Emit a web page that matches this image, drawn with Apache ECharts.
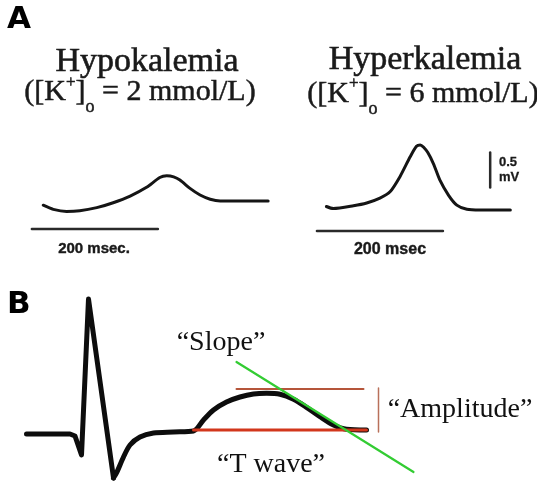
<!DOCTYPE html>
<html>
<head>
<meta charset="utf-8">
<script src="https://cdn.jsdelivr.net/npm/echarts@6/dist/echarts.min.js"></script>
<style>
  html, body { margin: 0; padding: 0; background: #ffffff; }
  #chart { width: 537px; height: 486px; }
</style>
</head>
<body>
<div id="chart"></div>
<script>
// Panel A: T waves (time in msec, amplitude in mV)
const hypoTime = [21, 37, 58, 79, 106, 132, 159, 185, 206, 217, 228, 238, 254, 270, 286, 302, 378];
const hypoMv   = [-0.06, -0.12, -0.15, -0.14, -0.095, -0.025, 0.07, 0.195, 0.335, 0.36, 0.345, 0.30, 0.18, 0.085, 0.025, 0.0, 0.0];

const hyperTime = [26, 37, 69, 90, 111, 127, 143, 159, 169, 175, 180, 187, 196, 206, 220, 233, 249, 270, 318];
const hyperMv   = [0.05, 0.02, 0.06, 0.10, 0.17, 0.26, 0.48, 0.76, 0.91, 0.93, 0.90, 0.82, 0.66, 0.43, 0.21, 0.07, 0.01, 0.0, 0.0];

// calibration bars: 200 msec and 0.5 mV
const hypoTimeBar = [[3, -0.40], [203, -0.40]];
const hyperTimeBar = [[11, -0.30], [211, -0.30]];
const hyperMvBar = [[286, 0.32], [286, 0.82]];

// Panel B: one beat (time in msec, amplitude in mV)
const qrsTime = [13, 100, 110, 123, 137, 187];
const qrsMv   = [0.0, 0.0, -0.02, -0.21, 1.35, -0.44];
const stTime  = [187, 193, 207, 220, 240, 267, 307, 347, 367, 387, 413, 440, 467, 493, 520, 547, 573, 600, 627, 653, 693];
const stMv    = [-0.44, -0.39, -0.23, -0.11, -0.03, 0.01, 0.02, 0.03, 0.14, 0.24, 0.32, 0.37, 0.40, 0.407, 0.397, 0.347, 0.267, 0.173, 0.09, 0.047, 0.04];

// T-wave measurements
const tBaseline  = [[347, 0.04], [693, 0.04]];
const tPeakLevel = [[433, 0.45], [687, 0.45]];
const tAmplitude = [[717, 0.02], [717, 0.46]];
const tSlope     = [[433, 0.72], [787, -0.38]];

const zip = (xs, ys) => xs.map((x, i) => [x, ys[i]]);

const serifName = 'Liberation Serif';
const serif = "'Liberation Serif', 'Times New Roman', serif";
const sansBold = "'Liberation Sans', Arial, sans-serif";
const ink = '#1a1a1a';

function lineSeries(idx, data, color, width, smooth, z) {
  return {
    type: 'line', xAxisIndex: idx, yAxisIndex: idx, data: data,
    showSymbol: false, symbol: 'none', smooth: smooth || false, clip: false,
    lineStyle: { color: color, width: width, cap: 'round', join: 'round' },
    z: z || 2, silent: true, animation: false
  };
}

function txt(x, y, text, font, size, weight, align, color, bold) {
  return {
    type: 'text', x: x, y: y, silent: true,
    style: {
      text: text, fontFamily: font, fontSize: size, fontWeight: weight || 'normal',
      fill: color || '#111', align: align || 'left', verticalAlign: 'middle',
      stroke: bold ? (color || '#111') : null, lineWidth: bold || 0
    }
  };
}

// concentration label "([K+]o = n mmol/L)" with superscript and subscript pieces
const measureCtx = document.createElement('canvas').getContext('2d');
function concLabel(cx, cy, value) {
  const parts = [
    { t: '([K', size: 30, dy: 0 },
    { t: '+', size: 17, dy: -10 },
    { t: ']', size: 30, dy: 0 },
    { t: 'o', size: 18, dy: 15 },
    { t: ' = ' + value + ' mmol/L)', size: 30, dy: 0 }
  ];
  let total = 0;
  parts.forEach(p => {
    measureCtx.font = p.size + 'px "' + serifName + '"';
    p.w = measureCtx.measureText(p.t).width;
    total += p.w;
  });
  let x = cx - total / 2;
  return parts.map(p => {
    const el = txt(x, cy + p.dy, p.t, serif, p.size, 'normal', 'left', ink, 0.5);
    x += p.w;
    return el;
  });
}

const chart = echarts.init(document.getElementById('chart'), null, { renderer: 'canvas' });

const hiddenAxis = (min, max) => ({
  type: 'value', min: min, max: max, show: false,
  splitLine: { show: false }, axisLine: { show: false }
});

chart.setOption({
  animation: false,
  backgroundColor: '#ffffff',
  grid: [
    { left: 30, top: 131, width: 252, height: 112 },
    { left: 310, top: 126, width: 226.8, height: 126 },
    { left: 20, top: 284, width: 500, height: 200 }
  ],
  xAxis: [hiddenAxis(0, 400), hiddenAxis(0, 360), hiddenAxis(0, 1000)].map((a, i) => Object.assign(a, { gridIndex: i })),
  yAxis: [hiddenAxis(-0.6, 1.0), hiddenAxis(-0.6, 1.2), hiddenAxis(-0.5, 1.5)].map((a, i) => Object.assign(a, { gridIndex: i })),
  series: [
    lineSeries(0, zip(hypoTime, hypoMv), '#151515', 3, 0.25),
    lineSeries(0, hypoTimeBar, '#2a2a2a', 2.5),
    lineSeries(1, zip(hyperTime, hyperMv), '#151515', 3, 0.25),
    lineSeries(1, hyperTimeBar, '#2a2a2a', 2.5),
    lineSeries(1, hyperMvBar, '#2a2a2a', 2.5),
    lineSeries(2, zip(qrsTime, qrsMv), '#0d0d0d', 5, false, 2),
    lineSeries(2, zip(stTime, stMv), '#0d0d0d', 5, 0.3, 2),
    lineSeries(2, tBaseline, '#d2361c', 3, false, 3),
    lineSeries(2, tPeakLevel, '#b5553a', 2, false, 3),
    lineSeries(2, tAmplitude, '#b9705a', 1.5, false, 3),
    lineSeries(2, tSlope, '#33cc33', 2.2, false, 4)
  ],
  graphic: [
    txt(7, 20, 'A', "'DejaVu Sans', sans-serif", 31, 'bold', 'left', '#000'),
    txt(7, 305, 'B', "'DejaVu Sans', sans-serif", 31, 'bold', 'left', '#000'),
    txt(147, 62, 'Hypokalemia', serif, 34, 'normal', 'center', ink, 0.6),
    txt(425, 60, 'Hyperkalemia', serif, 34, 'normal', 'center', ink, 0.6)
  ].concat(concLabel(140, 92.5, '2'), concLabel(423, 94, '6'), [
    txt(94, 249, '200 msec.', sansBold, 15, 'bold', 'center', ink, 0.4),
    txt(390, 250, '200 msec', sansBold, 16, 'bold', 'center', ink, 0.4),
    txt(499, 162, '0.5', sansBold, 13, 'bold', 'left', ink, 0.3),
    txt(499, 177, 'mV', sansBold, 13, 'bold', 'left', ink, 0.3),
    txt(221, 343, '\u201CSlope\u201D', serif, 28, 'normal', 'center', '#111'),
    txt(460, 410, '\u201CAmplitude\u201D', serif, 28, 'normal', 'center', '#111'),
    txt(271, 465, '\u201CT wave\u201D', serif, 28, 'normal', 'center', '#111')
  ])
});
</script>
</body>
</html>
